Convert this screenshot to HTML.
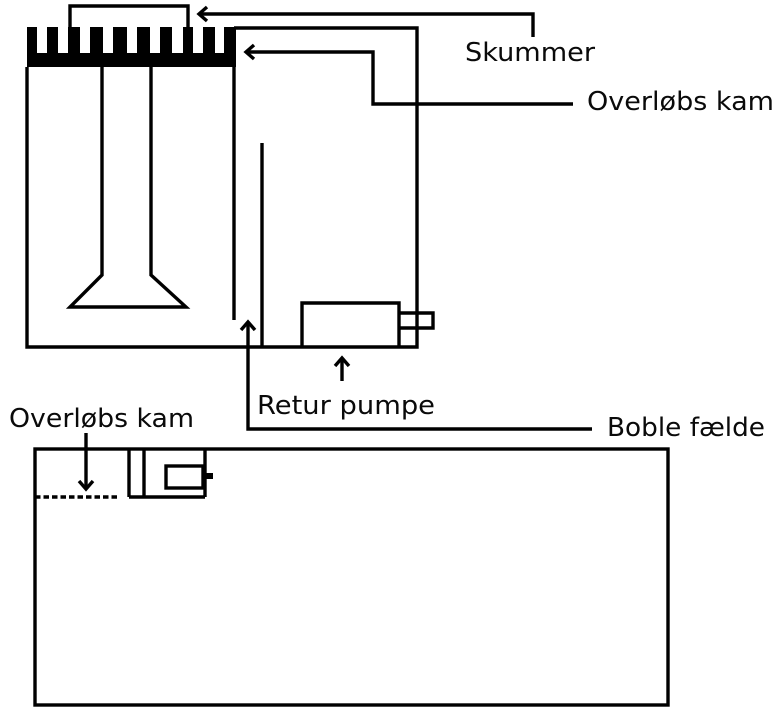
<!DOCTYPE html>
<html>
<head>
<meta charset="utf-8">
<style>
html,body{margin:0;padding:0;background:#fff;}
svg{display:block;}
text{font-family:"DejaVu Sans","Liberation Sans",sans-serif;font-size:26px;fill:#0a0a0a;}
</style>
</head>
<body>
<svg width="782" height="721" viewBox="0 0 782 721" xmlns="http://www.w3.org/2000/svg">
<g fill="none" stroke="#000" stroke-width="3.4" stroke-linecap="butt" stroke-linejoin="miter">
  <!-- comb -->
  <path fill="#000" stroke="none" d="M27,27 H37 V53 H47 V27 H58 V53 H68 V27 H80 V53 H90 V27 H103 V53 H113 V27 H127 V53 H137 V27 H150 V53 H160 V27 H172 V53 H183 V27 H193 V53 H203 V27 H215 V53 H224 V27 H236 V67 H27 Z"/>
  <!-- skimmer box -->
  <path d="M70,27 V6 H188 V27"/>
  <!-- upper tank -->
  <path d="M27,67 V347 H417 V28 H234"/>
  <path d="M234,67 V320"/>
  <path d="M262,143 V347"/>
  <!-- tubes & funnel -->
  <path d="M102,67 V275 L70,307 H186 L151,275 V67"/>
  <!-- pump -->
  <path d="M302,347 V303 H399 V347"/>
  <path d="M399,313 H433 V328 H399"/>
  <!-- connectors -->
  <path d="M199,14 H533 V37"/>
  <path d="M207,7 L199,14 L207,21"/>
  <path d="M246,52 H373 V104 H573"/>
  <path d="M254,45 L246,52 L254,59"/>
  <path d="M248,322 V429 H592"/>
  <path d="M241,330 L248,322 L255,330"/>
  <path d="M342,358 V381"/>
  <path d="M335,366 L342,358 L349,366"/>
  <path d="M86,433 V489"/>
  <path d="M79,481 L86,489 L93,481"/>
  <!-- bottom tank -->
  <rect x="35" y="449" width="633" height="256"/>
  <path d="M129,449 V497"/>
  <path d="M144,449 V497"/>
  <path d="M205,449 V497"/>
  <path d="M129,497 H205"/>
  <path d="M35,497 H119" stroke-dasharray="5.5 3"/>
  <rect x="166" y="466" width="37" height="22"/>
</g>
<rect x="203" y="473" width="10" height="6" fill="#000"/>
<text x="465" y="61" textLength="130" lengthAdjust="spacingAndGlyphs">Skummer</text>
<text x="587" y="110" textLength="187" lengthAdjust="spacingAndGlyphs">Overløbs kam</text>
<text x="257" y="414" textLength="178" lengthAdjust="spacingAndGlyphs">Retur pumpe</text>
<text x="607" y="436" textLength="158" lengthAdjust="spacingAndGlyphs">Boble fælde</text>
<text x="9" y="427" textLength="185" lengthAdjust="spacingAndGlyphs">Overløbs kam</text>
</svg>
</body>
</html>
